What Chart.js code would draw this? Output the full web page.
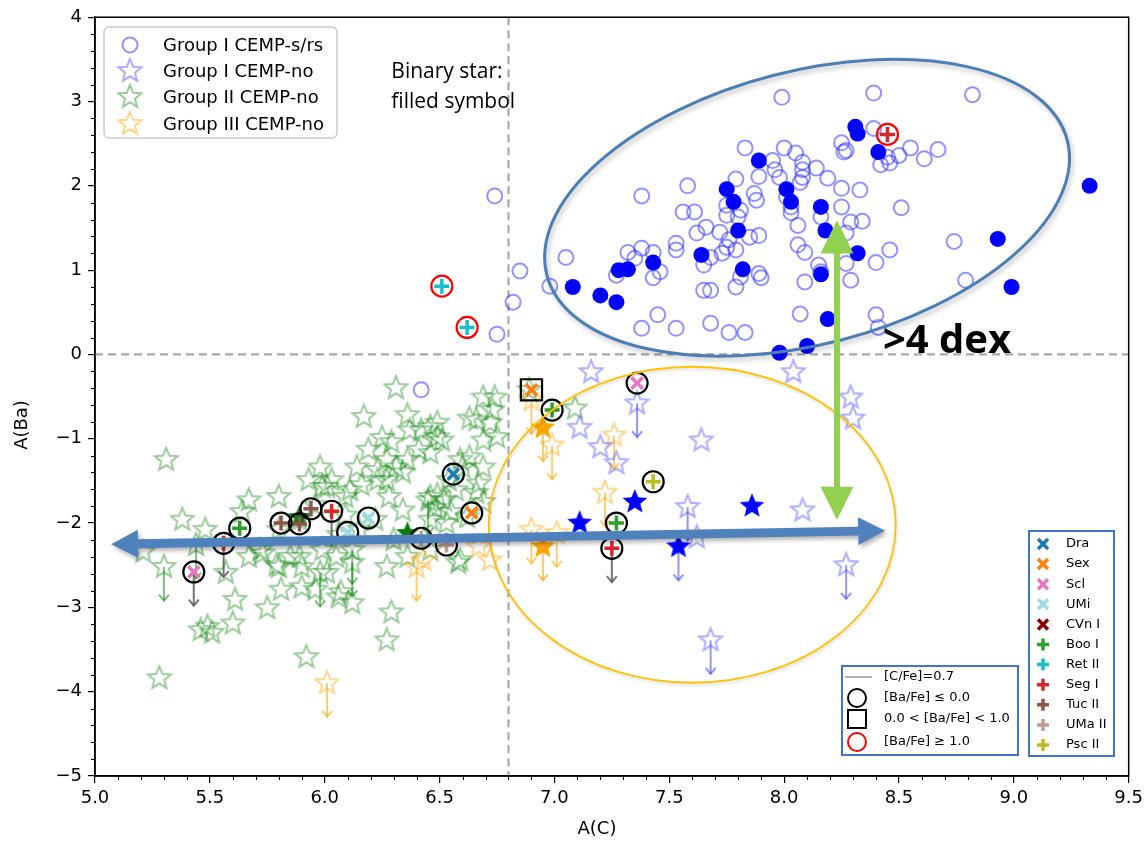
<!DOCTYPE html>
<html>
<head>
<meta charset="utf-8">
<script src="https://cdn.jsdelivr.net/npm/chart.js@4.4.1/dist/chart.umd.min.js"></script>
<style>html,body{margin:0;padding:0;background:#fff}canvas{display:block}</style>
</head>
<body>
<canvas id="abund" width="1148" height="842"></canvas>
<script>
// Group I CEMP-s/rs, open circles
const grp1srsC = [7.99,7.38,7.58,7.83,8.00,8.05,7.95,7.96,8.08,8.08,8.08,8.07,8.14,8.19,8.25,8.26,7.89,7.98,7.79,8.25,
  8.25,7.87,7.88,7.56,7.61,7.75,7.75,7.81,7.80,8.01,8.03,8.03,8.16,7.66,7.62,7.72,7.76,7.75,7.73,7.79,
  7.85,7.89,8.06,8.06,8.09,7.53,7.53,7.38,7.32,7.35,7.43,7.27,7.43,7.46,7.65,7.68,7.81,7.89,7.90,7.79,
  7.65,7.68,8.15,8.16,8.09,7.05,6.98,7.45,7.38,7.53,7.68,7.76,7.83,8.07,8.39,8.82,8.39,8.27,8.45,8.42,
  8.46,8.50,8.55,8.61,8.67,8.33,8.51,8.29,8.34,8.27,8.46,8.40,8.27,8.29,8.74,8.79,8.40,8.41,6.74,6.85,
  6.82,6.75,6.42];
const grp1srsBa = [3.05,1.88,2.00,2.45,2.45,2.39,2.30,2.19,2.28,2.19,2.10,2.04,2.21,2.09,2.51,2.40,2.11,2.10,2.08,1.97,
  1.75,1.91,1.83,1.69,1.69,1.77,1.65,1.71,1.63,1.87,1.68,1.75,1.63,1.51,1.44,1.45,1.36,1.27,1.20,1.24,
  1.39,1.41,1.53,1.30,1.21,1.32,1.24,1.26,1.21,1.14,1.21,0.94,0.91,0.98,1.06,1.15,0.92,0.96,0.91,0.80,
  0.76,0.76,1.06,0.98,0.86,1.15,0.81,0.47,0.31,0.31,0.37,0.26,0.26,0.48,3.10,3.08,2.68,2.42,2.34,2.25,
  2.27,2.36,2.45,2.32,2.43,1.95,1.74,1.57,1.58,1.44,1.24,1.09,1.08,0.88,1.34,0.88,0.47,0.32,1.88,0.99,
  0.62,0.24,-0.42];
// Group I CEMP-s/rs binaries, filled circles
const grp1srsBinC = [7.89,7.75,7.78,8.01,8.03,8.16,8.18,7.80,7.64,7.43,7.28,7.32,7.82,8.16,7.08,7.20,7.27,8.19,7.98,8.10,
  8.31,8.32,8.41,8.32,9.33,8.93,8.99];
const grp1srsBinBa = [2.30,1.96,1.81,1.96,1.81,1.75,1.47,1.47,1.18,1.09,1.00,1.01,1.01,0.95,0.80,0.70,0.62,0.42,0.02,0.10,
  2.70,2.62,2.40,1.20,2.00,1.37,0.80];

// Group I CEMP-no
const grp1noC = [7.16,8.04,8.29,8.30,7.11,7.20,7.27,7.64,7.62,8.08];
const grp1noBa = [-0.21,-0.21,-0.51,-0.76,-0.87,-1.10,-1.29,-1.02,-2.17,-1.85];
const grp1noLimC = [7.36,7.58,8.27,7.68];
const grp1noLimBa = [-0.58,-1.81,-2.50,-3.39];
const grp1noBinC = [7.35,7.11,7.86];
const grp1noBinBa = [-1.75,-2.00,-1.80];
const grp1noBinLimC = [7.54];
const grp1noBinLimBa = [-2.28];

// Group II CEMP-no
const grp2C = [5.31,6.31,6.36,6.17,6.25,6.19,5.98,6.34,6.14,6.03,5.80,5.64,5.21,5.57,5.73,5.79,5.85,5.90,5.81,5.61,
  5.75,5.90,5.96,5.99,6.05,6.07,6.12,6.29,6.27,5.60,5.46,5.49,5.51,5.92,5.28,6.28,6.34,6.37,6.23,6.09,
  5.99,5.93,5.67,6.36,6.46,6.49,6.42,6.49,6.51,6.41,6.46,6.36,6.31,6.27,6.01,6.11,6.16,6.23,6.69,6.73,
  6.66,6.72,6.75,6.69,6.63,6.69,6.60,6.54,6.49,6.57,6.67,6.52,6.62,6.69,6.46,6.53,6.58,6.46,6.01,6.06,
  6.27,5.80,5.89,5.72,6.63,6.74,6.29,6.27,6.46,6.59,6.66,6.55,6.48,6.59,7.09,6.89,5.89,5.96,6.09,6.15,
  6.22,6.30,5.80,6.06,5.48,5.38,5.67];
const grp2Ba = [-1.25,-0.40,-0.72,-0.74,-0.99,-1.13,-1.34,-1.40,-1.34,-1.49,-1.69,-1.87,-2.34,-2.59,-2.36,-2.50,-2.40,-2.52,-2.79,-2.91,
  -3.01,-2.76,-2.79,-2.32,-2.40,-2.82,-2.95,-3.06,-3.39,-3.19,-3.27,-3.23,-3.30,-3.59,-3.84,-1.69,-1.85,-0.90,-1.49,-1.69,
  -1.57,-1.49,-2.40,-2.40,-0.86,-0.81,-0.90,-0.98,-1.02,-1.13,-1.17,-1.25,-1.34,-1.49,-1.57,-1.61,-1.55,-1.37,-0.51,-0.66,
  -0.78,-0.81,-0.98,-1.02,-1.22,-1.34,-1.34,-1.49,-1.67,-1.61,-1.53,-1.73,-1.93,-1.75,-1.96,-2.00,-2.47,-2.32,-2.59,-2.88,
  -2.52,-2.52,-2.40,-2.32,-0.76,-0.51,-1.04,-1.25,-1.69,-1.25,-1.64,-1.87,-1.82,-2.44,-0.64,-0.42,-1.96,-1.79,-1.91,-2.08,
  -1.96,-2.20,-2.08,-2.14,-2.08,-1.96,-1.73];
const grp2LimC = [5.30,5.44,6.12,6.45,6.12,5.98];
const grp2LimBa = [-2.52,-2.26,-2.32,-1.73,-2.47,-2.59];
const grp2BinC = [6.36,5.89];
const grp2BinBa = [-2.12,-1.93];

// Group III CEMP-no
const grp3C = [6.43,6.67,6.72];
const grp3Ba = [-2.44,-2.28,-2.44];
const grp3LimC = [6.90,6.99,7.26,7.22,6.90,7.01,6.40,6.01];
const grp3LimBa = [-0.54,-1.08,-0.96,-1.64,-2.08,-2.12,-2.52,-3.90];
const grp3BinLimC = [6.95,6.95];
const grp3BinLimBa = [-0.87,-2.28];

// dwarf galaxy stars
const dwarfGal = ['Scl','Seg I','Boo I','Tuc II','Tuc II','Tuc II','Seg I','UMi','UMi','UMa II','UMa II','Dra','Sex','Sex',
  'Boo I','Scl','Psc II','Boo I','Seg I','Ret II','Ret II','Seg I'];
const dwarfC = [5.43,5.56,5.63,5.81,5.89,5.94,6.03,6.10,6.19,6.42,6.53,6.56,6.64,6.90,6.99,7.36,7.43,7.27,7.25,6.51,6.62,8.45];
const dwarfBa = [-2.58,-2.24,-2.06,-2.00,-2.01,-1.83,-1.86,-2.11,-1.94,-2.18,-2.26,-1.42,-1.88,-0.42,-0.66,-0.34,-1.51,-2.00,-2.30,0.81,0.32,2.61];
const dwarfRing = ['lo','lo','lo','lo','lo','lo','lo','lo','lo','lo','lo','lo','lo','mid','lo','lo','lo','lo','lo','hi','hi','hi'];
const dwarfLim = [1,1,0,0,0,0,1,0,0,0,0,0,0,0,0,0,0,0,1,0,0,0];

const galNames = ['Dra','Sex','Scl','UMi','CVn I','Boo I','Ret II','Seg I','Tuc II','UMa II','Psc II'];
const galColors = ['#1f77b4','#ff7f0e','#e377c2','#9edae5','#8b0000','#2ca02c','#17becf','#d62728','#8c564b','#c49c94','#bcbd22'];
const galMarks = ['x','x','x','x','x','+','+','+','+','+','+'];

const cBlueOpen = 'rgba(40,40,255,0.5)';
const cBlueStar = 'rgba(60,60,255,0.42)';
const cGreen = 'rgba(0,128,0,0.4)';
const cOrange = 'rgba(255,165,0,0.45)';

function starImg(r, stroke, fill, lw) {
  const s = Math.ceil(2 * r + 2 * lw + 4);
  const c = document.createElement('canvas');
  c.width = c.height = s;
  const g = c.getContext('2d');
  g.translate(s / 2, s / 2);
  g.beginPath();
  for (let i = 0; i < 10; i++) {
    const rr = i % 2 ? r * 0.44 : r;
    const a = -Math.PI / 2 + i * Math.PI / 5;
    g.lineTo(rr * Math.cos(a), rr * Math.sin(a));
  }
  g.closePath();
  if (fill) { g.fillStyle = fill; g.fill(); }
  if (stroke) { g.strokeStyle = stroke; g.lineWidth = lw; g.stroke(); }
  return c;
}
const imgGreen = starImg(12, cGreen, null, 2);
const imgBlue = starImg(12, cBlueStar, null, 2);
const imgOrange = starImg(12, cOrange, null, 2);
const imgBlueFill = starImg(13, null, '#0000ff', 0);
const imgOrangeFill = starImg(13, null, '#ffa500', 0);
const imgGreenFill = starImg(12, null, '#0a7a0a', 0);

const pts = (xs, ys) => xs.map((x, i) => ({ x, y: ys[i] }));
const starSet = (xs, ys, img, order, arrow) => ({
  data: pts(xs, ys), pointStyle: img, pointRadius: 12, order, limit: !!arrow, arrowColor: arrow
});

const datasets = [
  starSet(grp2C, grp2Ba, imgGreen, 20),
  starSet(grp2LimC, grp2LimBa, imgGreen, 20, 'rgba(0,128,0,0.5)'),
  starSet(grp3C, grp3Ba, imgOrange, 19),
  starSet(grp3LimC, grp3LimBa, imgOrange, 19, 'rgba(255,165,0,0.55)'),
  { data: pts(grp1srsC, grp1srsBa), pointStyle: 'circle', pointRadius: 7.5, borderWidth: 2,
    borderColor: cBlueOpen, backgroundColor: 'rgba(0,0,0,0)', order: 18 },
  starSet(grp1noC, grp1noBa, imgBlue, 17),
  starSet(grp1noLimC, grp1noLimBa, imgBlue, 17, 'rgba(60,60,255,0.55)'),
  { data: pts(grp1srsBinC, grp1srsBinBa), pointStyle: 'circle', pointRadius: 8, borderWidth: 0,
    backgroundColor: '#0000ff', order: 16 },
  starSet(grp1noBinC, grp1noBinBa, imgBlueFill, 15),
  starSet(grp1noBinLimC, grp1noBinLimBa, imgBlueFill, 15, 'rgba(60,60,255,0.55)'),
  starSet(grp3BinLimC, grp3BinLimBa, imgOrangeFill, 14, 'rgba(255,165,0,0.6)'),
  starSet(grp2BinC, grp2BinBa, imgGreenFill, 14)
];

// dwarf upper-limit arrows (invisible points)
const limIdx = dwarfC.map((c, i) => i).filter(i => dwarfLim[i]);
datasets.push({ data: limIdx.map(i => ({ x: dwarfC[i], y: dwarfBa[i] })), pointRadius: 0,
  order: 21, limit: true, arrowColor: 'rgba(90,90,90,0.85)' });

galNames.forEach((g, k) => {
  const idx = dwarfGal.map((n, i) => i).filter(i => dwarfGal[i] === g);
  if (!idx.length) return;
  datasets.push({
    data: idx.map(i => ({ x: dwarfC[i], y: dwarfBa[i] })),
    pointStyle: galMarks[k] === 'x' ? 'crossRot' : 'cross',
    pointRadius: galMarks[k] === 'x' ? 8 : 7.5, borderWidth: 3.5, borderColor: galColors[k], order: 3
  });
});
[['lo', 'circle', 10.5, '#000'], ['mid', 'rect', 15, '#000'], ['hi', 'circle', 10.5, '#ff0000']].forEach(([key, shape, r, col]) => {
  const idx = dwarfRing.map((n, i) => i).filter(i => dwarfRing[i] === key);
  datasets.push({
    data: idx.map(i => ({ x: dwarfC[i], y: dwarfBa[i] })),
    pointStyle: shape, pointRadius: r, borderWidth: 2.2, borderColor: col,
    backgroundColor: 'rgba(0,0,0,0)', order: 2
  });
});

function fatArrow(ctx, x0, y0, x1, y1, shaftW, headW, headL) {
  const L = Math.hypot(x1 - x0, y1 - y0), ux = (x1 - x0) / L, uy = (y1 - y0) / L;
  const nx = -uy, ny = ux;
  const b0 = [x0 + ux * headL, y0 + uy * headL], b1 = [x1 - ux * headL, y1 - uy * headL];
  const p = (b, w) => [b[0] + nx * w, b[1] + ny * w];
  const poly = [[x0, y0], p(b0, headW / 2), p(b0, shaftW / 2), p(b1, shaftW / 2), p(b1, headW / 2), [x1, y1],
    p(b1, -headW / 2), p(b1, -shaftW / 2), p(b0, -shaftW / 2), p(b0, -headW / 2)];
  ctx.beginPath();
  poly.forEach((q, i) => i ? ctx.lineTo(q[0], q[1]) : ctx.moveTo(q[0], q[1]));
  ctx.closePath();
  ctx.fill();
}

function crossMark(ctx, x, y, mark, color, s, lw) {
  ctx.strokeStyle = color; ctx.lineWidth = lw;
  ctx.beginPath();
  if (mark === 'x') {
    ctx.moveTo(x - s, y - s); ctx.lineTo(x + s, y + s); ctx.moveTo(x + s, y - s); ctx.lineTo(x - s, y + s);
  } else {
    ctx.moveTo(x - s, y); ctx.lineTo(x + s, y); ctx.moveTo(x, y - s); ctx.lineTo(x, y + s);
  }
  ctx.stroke();
}

const decor = {
  id: 'decor',
  beforeDatasetsDraw(chart) {
    const { ctx, chartArea: a, scales: { x, y } } = chart;
    ctx.save();
    ctx.strokeStyle = '#a8a8a8'; ctx.lineWidth = 2.2; ctx.setLineDash([8, 5]);
    ctx.beginPath();
    ctx.moveTo(x.getPixelForValue(6.8), a.top); ctx.lineTo(x.getPixelForValue(6.8), a.bottom);
    ctx.moveTo(a.left, y.getPixelForValue(0)); ctx.lineTo(a.right, y.getPixelForValue(0));
    ctx.stroke();
    ctx.setLineDash([]);
    chart.data.datasets.forEach((ds, i) => {
      if (!ds.limit) return;
      chart.getDatasetMeta(i).data.forEach((el, j) => {
        const v = ds.data[j].y;
        const y1 = y.getPixelForValue(v - 0.4);
        ctx.strokeStyle = ds.arrowColor; ctx.lineWidth = 2;
        ctx.beginPath(); ctx.moveTo(el.x, el.y); ctx.lineTo(el.x, y1); ctx.stroke();
        ctx.beginPath(); ctx.moveTo(el.x - 5, y1 - 6); ctx.lineTo(el.x, y1); ctx.lineTo(el.x + 5, y1 - 6); ctx.stroke();
      });
    });
    ctx.restore();
  },
  afterDatasetsDraw(chart) {
    const { ctx, scales: { x, y } } = chart;
    const ux = x.getPixelForValue(1) - x.getPixelForValue(0);
    const uy = y.getPixelForValue(0) - y.getPixelForValue(1);
    ctx.save();
    // blue ellipse around Group I CEMP-s/rs
    ctx.shadowColor = 'rgba(0,0,0,0.25)'; ctx.shadowBlur = 5; ctx.shadowOffsetX = 2; ctx.shadowOffsetY = 3;
    ctx.strokeStyle = '#4a7eb4'; ctx.lineWidth = 3;
    ctx.beginPath();
    ctx.ellipse(x.getPixelForValue(8.10), y.getPixelForValue(1.74), 1.17 * ux, 1.62 * uy, -14.5 * Math.PI / 180, 0, 2 * Math.PI);
    ctx.stroke();
    // orange ellipse
    ctx.shadowBlur = 3; ctx.shadowOffsetX = 1; ctx.shadowOffsetY = 2; ctx.shadowColor = 'rgba(0,0,0,0.15)';
    ctx.strokeStyle = '#ffc000'; ctx.lineWidth = 1.8;
    ctx.beginPath();
    ctx.ellipse(x.getPixelForValue(7.60), y.getPixelForValue(-2.02), 0.886 * ux, 1.874 * uy, 0, 0, 2 * Math.PI);
    ctx.stroke();
    // blue double arrow
    ctx.shadowColor = 'rgba(0,0,0,0.3)'; ctx.shadowBlur = 4; ctx.shadowOffsetX = 2; ctx.shadowOffsetY = 3;
    ctx.fillStyle = '#4f81bd';
    fatArrow(ctx, x.getPixelForValue(5.07), y.getPixelForValue(-2.25), x.getPixelForValue(8.44), y.getPixelForValue(-2.09), 9, 28, 27);
    // green double arrow
    ctx.shadowColor = 'rgba(0,0,0,0)';
    ctx.fillStyle = '#92d050';
    fatArrow(ctx, x.getPixelForValue(8.23), y.getPixelForValue(1.59), x.getPixelForValue(8.23), y.getPixelForValue(-1.96), 6, 33, 33);
    // texts
    ctx.fillStyle = '#000';
    ctx.font = 'bold 40px "Open Sans"'; ctx.textBaseline = 'alphabetic'; ctx.textAlign = 'left';
    ctx.fillText('>4 dex', x.getPixelForValue(8.43), y.getPixelForValue(0.02));
    ctx.font = '21px "Open Sans"'; ctx.textBaseline = 'middle';
    ctx.fillText('Binary star:', x.getPixelForValue(6.29), y.getPixelForValue(3.35));
    ctx.fillText('filled symbol', x.getPixelForValue(6.29), y.getPixelForValue(2.99));
    ctx.restore();
  },
  afterDraw(chart) {
    const { ctx, chartArea: a, scales: { x, y } } = chart;
    ctx.save();
    // frame
    ctx.strokeStyle = '#000'; ctx.lineWidth = 1.5;
    ctx.strokeRect(a.left, a.top, a.right - a.left, a.bottom - a.top);
    // minor ticks
    ctx.lineWidth = 1;
    ctx.beginPath();
    for (let k = 50; k <= 95; k++) {
      if (k % 5 === 0) continue;
      const px = Math.round(x.getPixelForValue(k / 10)) + 0.5;
      ctx.moveTo(px, a.bottom); ctx.lineTo(px, a.bottom + 4);
    }
    for (let k = -25; k <= 20; k++) {
      if (k % 5 === 0) continue;
      const py = Math.round(y.getPixelForValue(k / 5)) + 0.5;
      ctx.moveTo(a.left, py); ctx.lineTo(a.left - 4, py);
    }
    ctx.stroke();
    // axis titles
    ctx.fillStyle = '#000'; ctx.font = '18px "DejaVu Sans"';
    ctx.textAlign = 'center'; ctx.textBaseline = 'middle';
    ctx.fillText('A(C)', 597, 829);
    ctx.translate(22, 425); ctx.rotate(-Math.PI / 2); ctx.fillText('A(Ba)', 0, 0);
    ctx.setTransform(1, 0, 0, 1, 0, 0);

    // legend: groups
    ctx.fillStyle = 'rgba(255,255,255,0.85)'; ctx.strokeStyle = '#cccccc'; ctx.lineWidth = 1.5;
    ctx.beginPath(); ctx.roundRect(104, 27, 233, 111, 5); ctx.fill(); ctx.stroke();
    const rows = [45, 71, 97, 124];
    ctx.strokeStyle = cBlueOpen; ctx.lineWidth = 2;
    ctx.beginPath(); ctx.arc(130, rows[0], 7.5, 0, 2 * Math.PI); ctx.stroke();
    [imgBlue, imgGreen, imgOrange].forEach((im, i) => ctx.drawImage(im, 130 - im.width / 2, rows[i + 1] - im.height / 2));
    ctx.fillStyle = '#000'; ctx.font = '18px "DejaVu Sans"'; ctx.textAlign = 'left'; ctx.textBaseline = 'middle';
    ['Group I CEMP-s/rs', 'Group I CEMP-no', 'Group II CEMP-no', 'Group III CEMP-no'].forEach((t, i) => ctx.fillText(t, 163, rows[i] + 1));

    // legend: galaxies
    ctx.fillStyle = '#fff'; ctx.strokeStyle = '#4472c4'; ctx.lineWidth = 2;
    ctx.fillRect(1029, 531, 85, 225); ctx.strokeRect(1029, 531, 85, 225);
    ctx.font = '13px "DejaVu Sans"';
    galNames.forEach((g, i) => {
      const ry = 544 + i * 20.1;
      crossMark(ctx, 1043, ry, galMarks[i], galColors[i], galMarks[i] === 'x' ? 5 : 6, 3.5);
      ctx.fillStyle = '#000'; ctx.fillText(g, 1066, ry);
    });

    // legend: symbols
    ctx.fillStyle = '#fff'; ctx.strokeStyle = '#4472c4'; ctx.lineWidth = 2;
    ctx.fillRect(842, 666, 176, 89); ctx.strokeRect(842, 666, 176, 89);
    ctx.strokeStyle = '#999'; ctx.lineWidth = 1.5;
    ctx.beginPath(); ctx.moveTo(845, 677); ctx.lineTo(872, 677); ctx.stroke();
    ctx.strokeStyle = '#000'; ctx.lineWidth = 2;
    ctx.beginPath(); ctx.arc(857, 698, 9, 0, 2 * Math.PI); ctx.stroke();
    ctx.strokeRect(848, 710, 18, 18);
    ctx.strokeStyle = '#ff0000';
    ctx.beginPath(); ctx.arc(857, 742, 9, 0, 2 * Math.PI); ctx.stroke();
    ctx.fillStyle = '#000';
    ['[C/Fe]=0.7', '[Ba/Fe] \u2264 0.0', '0.0 < [Ba/Fe] < 1.0', '[Ba/Fe] \u2265 1.0'].forEach((t, i) =>
      ctx.fillText(t, 884, [677, 698, 719, 742][i]));
    ctx.restore();
  }
};

const tickFont = { family: 'DejaVu Sans', size: 18 };
new Chart(document.getElementById('abund'), {
  type: 'scatter',
  data: { datasets },
  options: {
    responsive: false,
    animation: false,
    events: [],
    layout: { padding: { top: 17, right: 17, left: 0, bottom: 0 } },
    plugins: { legend: { display: false }, tooltip: { enabled: false } },
    scales: {
      x: {
        type: 'linear', min: 5, max: 9.5,
        ticks: { stepSize: 0.5, callback: v => v.toFixed(1), font: tickFont, color: '#000', padding: 5, maxRotation: 0, autoSkip: false },
        grid: { drawOnChartArea: false, drawTicks: true, tickLength: 7, color: '#000', lineWidth: 1.2 },
        border: { display: true, color: '#000', width: 1.5 },
        afterFit: s => { s.height = 66; }
      },
      y: {
        type: 'linear', min: -5, max: 4,
        ticks: { stepSize: 1, callback: v => v < 0 ? '\u2212' + Math.abs(v) : String(v), font: tickFont, color: '#000', padding: 6, autoSkip: false },
        grid: { drawOnChartArea: false, drawTicks: true, tickLength: 7, color: '#000', lineWidth: 1.2 },
        border: { display: true, color: '#000', width: 1.5 },
        afterFit: s => { s.width = 95; }
      }
    }
  },
  plugins: [decor]
});
</script>
</body>
</html>
